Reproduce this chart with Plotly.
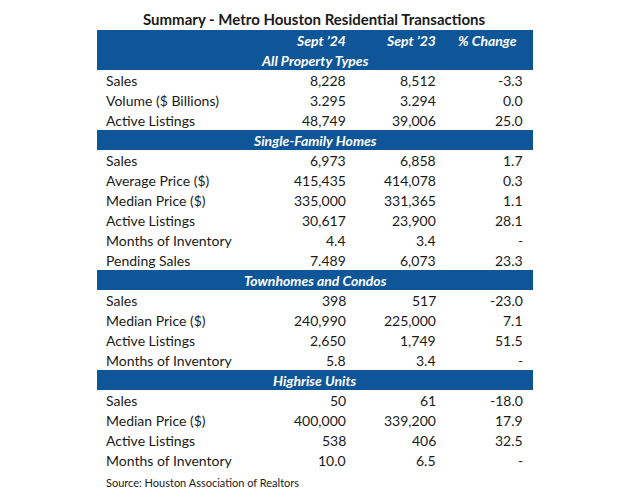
import plotly.graph_objects as go

title = "Summary - Metro Houston Residential Transactions"
col_headers = ["Sept \u201924", "Sept \u201923", "% Change"]
sections = ["All Property Types", "Single-Family Homes", "Townhomes and Condos", "Highrise Units"]
labels = [
    ["Sales", "Volume ($ Billions)", "Active Listings"],
    ["Sales", "Average Price ($)", "Median Price ($)", "Active Listings", "Months of Inventory", "Pending Sales"],
    ["Sales", "Median Price ($)", "Active Listings", "Months of Inventory"],
    ["Sales", "Median Price ($)", "Active Listings", "Months of Inventory"],
]
sept24 = [
    ["8,228", "3.295", "48,749"],
    ["6,973", "415,435", "335,000", "30,617", "4.4", "7.489"],
    ["398", "240,990", "2,650", "5.8"],
    ["50", "400,000", "538", "10.0"],
]
sept23 = [
    ["8,512", "3.294", "39,006"],
    ["6,858", "414,078", "331,365", "23,900", "3.4", "6,073"],
    ["517", "225,000", "1,749", "3.4"],
    ["61", "339,200", "406", "6.5"],
]
pct_change = [
    ["-3.3", "0.0", "25.0"],
    ["1.7", "0.3", "1.1", "28.1", "-", "23.3"],
    ["-23.0", "7.1", "51.5", "-"],
    ["-18.0", "17.9", "32.5", "-"],
]
source = "Source: Houston Association of Realtors"

BLUE = "#0F5699"
TXT = "#1a1a1a"
FONT = "Lato"
FS = 14
ROW = 20
LEFT, RIGHT = 97, 533
COLX = [348, 438, 525]
HDRX = [348, 438, 519]
PAGE_OFF = 8  # default page body margin

fig = go.Figure()
ann = []
shapes = []

def add_text(x, y, text, anchor="left", color=TXT, bold=False, italic=False, size=FS):
    t = text
    if bold:
        t = "<b>" + t + "</b>"
    if italic:
        t = "<i>" + t + "</i>"
    ann.append(dict(x=x, y=y, text=t, xref="x", yref="y", showarrow=False,
                    xanchor=anchor, yanchor="middle",
                    font=dict(family=FONT, size=size, color=color)))

add_text(314, 19, title, anchor="center", bold=True, size=15)

y = 30
shapes.append(dict(type="rect", x0=LEFT, x1=RIGHT, y0=y, y1=y + 2 * ROW, fillcolor=BLUE,
                   line=dict(width=0), layer="below"))
for hx, h in zip(HDRX, col_headers):
    add_text(hx, y + ROW / 2, h, anchor="right", color="white", bold=True, italic=True)
for si, sec in enumerate(sections):
    if si == 0:
        y += ROW
    else:
        shapes.append(dict(type="rect", x0=LEFT, x1=RIGHT, y0=y, y1=y + ROW, fillcolor=BLUE,
                           line=dict(width=0), layer="below"))
    add_text((LEFT + RIGHT) / 2, y + ROW / 2, sec, anchor="center", color="white", bold=True, italic=True)
    y += ROW
    for li, lab in enumerate(labels[si]):
        cy = y + ROW / 2
        add_text(104, cy, lab)
        add_text(COLX[0], cy, sept24[si][li], anchor="right")
        add_text(COLX[1], cy, sept23[si][li], anchor="right")
        add_text(COLX[2], cy, pct_change[si][li], anchor="right")
        y += ROW

add_text(104, y + 12, source, size=11)

fig.update_layout(
    width=636, height=501,
    margin=dict(l=0, r=0, t=0, b=0),
    paper_bgcolor="white", plot_bgcolor="white",
    xaxis=dict(range=[PAGE_OFF, 636 + PAGE_OFF], visible=False, fixedrange=True),
    yaxis=dict(range=[501 + PAGE_OFF, PAGE_OFF], visible=False, fixedrange=True),
    annotations=ann, shapes=shapes, showlegend=False,
)
fig.write_html("out.html")
